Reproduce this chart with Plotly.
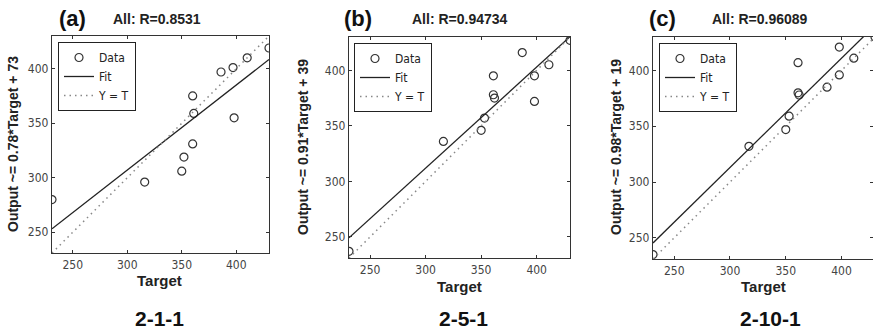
import plotly.graph_objects as go

W, H = 873, 333

# ---- data ----
target_a = [231, 316, 350, 352, 360, 361, 360, 386, 397, 398, 410, 430]
output_a = [280, 296, 306, 319, 331, 359, 375, 397, 401, 355, 410, 419]
target_b = [231, 316, 350, 353, 361, 361, 362, 387, 398, 398, 411, 430]
output_b = [237, 336, 346, 357, 395, 378, 375, 416, 395, 372, 405, 427]
target_c = [231, 317, 350, 353, 361, 361, 362, 387, 398, 398, 411, 430]
output_c = [235, 332, 347, 359, 407, 380, 378, 385, 396, 421, 411, 430]

fit_slopes = [0.78, 0.91, 0.98]
fit_intercepts = [73, 39, 19]
r_values = [0.8531, 0.94734, 0.96089]
panel_letters = ["(a)", "(b)", "(c)"]
architectures = ["2-1-1", "2-5-1", "2-10-1"]
tick_values = [250, 300, 350, 400]

targets = [target_a, target_b, target_c]
outputs = [output_a, output_b, output_c]

# ---- layout geometry (pixels) ----
plot_px = [  # left, right, top, bottom
    (52, 269, 36, 253),
    (349, 570, 37, 258),
    (653, 875, 37, 259),
]
legend_px = [(58, 42), (354, 43), (659, 43)]
letter_px = [(72, 18), (358, 18), (662, 18)]
title_px = [(157, 19), (460, 19), (760, 19)]
ytitle_px = [(13, 144), (303, 147), (616, 147)]
xtitle_px = [(159, 280), (459, 286), (763, 286)]
arch_px = [(159, 332), (463, 332), (770, 332)]

NARROW = "Liberation Sans Narrow, Arial Narrow, DejaVu Sans Condensed, sans-serif"
SANS = "Liberation Sans, Arial, sans-serif"


def px(x, y):
    return x / W, 1 - y / H


fig = go.Figure()
layout = dict(
    width=W, height=H,
    margin=dict(l=0, r=0, t=0, b=0),
    paper_bgcolor="white", plot_bgcolor="white",
    annotations=[],
)

for i in range(3):
    t, o = targets[i], outputs[i]
    lo = min(min(t), min(o))
    hi = max(max(t), max(o))
    sfx = "" if i == 0 else str(i + 1)
    xa, ya = "x" + sfx, "y" + sfx
    leg = "legend" + sfx

    fig.add_trace(go.Scatter(
        x=t, y=o, mode="markers", name="Data", xaxis=xa, yaxis=ya, legend=leg,
        marker=dict(symbol="circle-open", size=8, color="#333", line=dict(width=1.2)),
        cliponaxis=True,
    ))
    fx = [lo, hi]
    fy = [fit_slopes[i] * v + fit_intercepts[i] for v in fx]
    fig.add_trace(go.Scatter(
        x=fx, y=fy, mode="lines", name="Fit", xaxis=xa, yaxis=ya, legend=leg,
        line=dict(color="#222", width=1.3),
    ))
    fig.add_trace(go.Scatter(
        x=[lo, hi], y=[lo, hi], mode="lines", name="Y = T", xaxis=xa, yaxis=ya, legend=leg,
        line=dict(color="#888", width=1.5, dash="1.5px,4px"),
    ))

    l, r, tp, bt = plot_px[i]
    r_vis = min(r, W)
    xr_hi = lo + (hi - lo) * (r_vis - l) / (r - l)
    axis_common = dict(
        showgrid=False, zeroline=False, showline=True, linecolor="#333", linewidth=1.3,
        mirror="ticks", ticks="inside", ticklen=3, tickcolor="#333",
        tickvals=tick_values, tickfont=dict(family=NARROW, size=12, color="#444"),
        automargin=False,
    )
    layout["xaxis" + sfx] = dict(axis_common, domain=[l / W, r_vis / W], range=[lo, xr_hi], anchor=ya)
    layout["yaxis" + sfx] = dict(axis_common, domain=[1 - bt / H, 1 - tp / H], range=[lo, hi], anchor=xa)

    lx, ly = px(*legend_px[i])
    layout[leg] = dict(
        x=lx, y=ly, xanchor="left", yanchor="top", xref="paper", yref="paper",
        bgcolor="white", bordercolor="#222", borderwidth=1,
        font=dict(family=NARROW, size=12, color="#222"),
        tracegroupgap=0, itemwidth=30,
    )

    def ann(text, pos, **kw):
        ax_, ay_ = px(*pos)
        d = dict(text=text, x=ax_, y=ay_, xref="paper", yref="paper",
                 xanchor="center", yanchor="middle", showarrow=False)
        d.update(kw)
        layout["annotations"].append(d)

    ann(f"<b>{panel_letters[i]}</b>", letter_px[i], font=dict(family=SANS, size=22, color="#111"))
    ann(f"<b>All: R={r_values[i]}</b>", title_px[i], font=dict(family=SANS, size=14, color="#222"))
    ann(f"<b>Output ~= {fit_slopes[i]}*Target + {fit_intercepts[i]}</b>", ytitle_px[i],
        textangle=-90, font=dict(family=SANS, size=14, color="#222"))
    ann("<b>Target</b>", xtitle_px[i], font=dict(family=SANS, size=15, color="#222"))
    ann(f"<b>{architectures[i]}</b>", arch_px[i], yanchor="bottom",
        font=dict(family=SANS, size=21, color="#111"))

fig.update_layout(**layout)
fig.write_html(
    "out.html",
    config={"displayModeBar": False},
    post_script="document.body.style.margin='0';document.body.style.overflow='hidden';",
)
